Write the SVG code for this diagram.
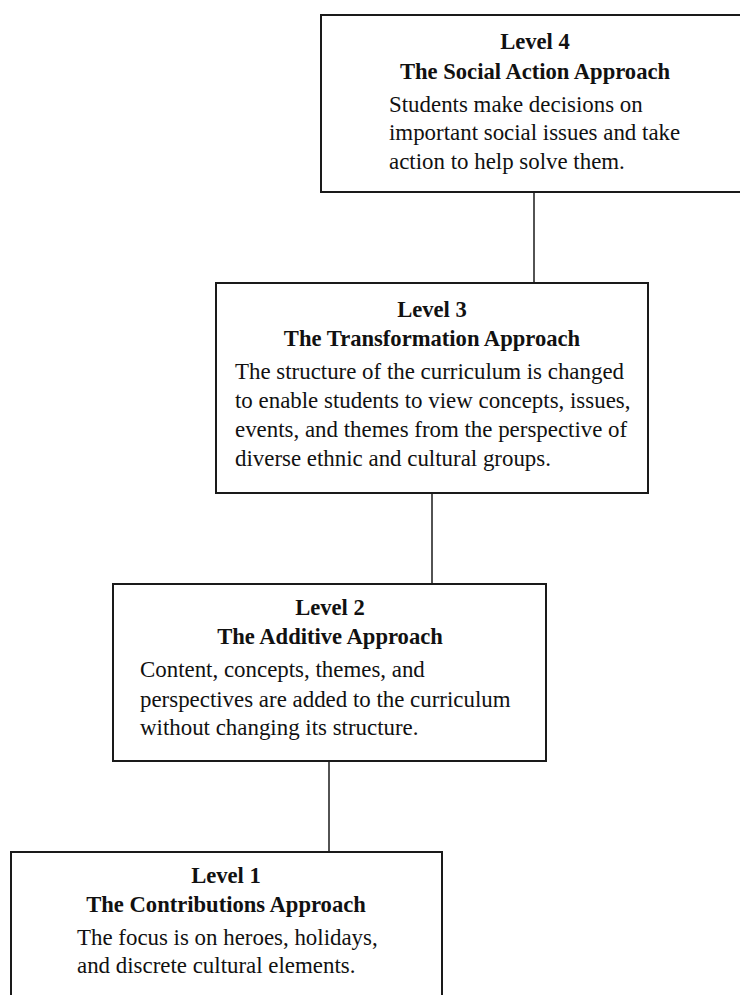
<svg xmlns="http://www.w3.org/2000/svg" width="740" height="995" viewBox="0 0 740 995">
<style>
.box{fill:#fff;stroke:#1a1a1a;stroke-width:2}
.conn{stroke:#1a1a1a;stroke-width:1.5;fill:none}
.t{font-family:"Liberation Serif","Times New Roman",serif;fill:#111}
.h{font-size:22.6px;font-weight:bold;text-anchor:middle}
.d{font-size:22.9px}
</style>
<rect width="740" height="995" fill="#fff"/>
<g id="connectors">
<line class="conn" x1="534" y1="192" x2="534" y2="283"/>
<line class="conn" x1="432" y1="493" x2="432" y2="584"/>
<line class="conn" x1="329" y1="761" x2="329" y2="852"/>
</g>
<g id="level4">
<rect class="box" x="321" y="15" width="430" height="177"/>
<text class="t h" x="535" y="49">Level 4</text>
<text class="t h" x="535" y="79">The Social Action Approach</text>
<text class="t d" x="389" y="112">Students make decisions on</text>
<text class="t d" x="389" y="140">important social issues and take</text>
<text class="t d" x="389" y="169">action to help solve them.</text>
</g>
<g id="level3">
<rect class="box" x="216" y="283" width="432" height="210"/>
<text class="t h" x="432" y="317">Level 3</text>
<text class="t h" x="432" y="346">The Transformation Approach</text>
<text class="t d" x="235" y="379">The structure of the curriculum is changed</text>
<text class="t d" x="235" y="408">to enable students to view concepts, issues,</text>
<text class="t d" x="235" y="437">events, and themes from the perspective of</text>
<text class="t d" x="235" y="466">diverse ethnic and cultural groups.</text>
</g>
<g id="level2">
<rect class="box" x="113" y="584" width="433" height="177"/>
<text class="t h" x="330" y="615">Level 2</text>
<text class="t h" x="330" y="644">The Additive Approach</text>
<text class="t d" x="140" y="677">Content, concepts, themes, and</text>
<text class="t d" x="140" y="707">perspectives are added to the curriculum</text>
<text class="t d" x="140" y="735">without changing its structure.</text>
</g>
<g id="level1">
<rect class="box" x="11" y="852" width="431" height="160"/>
<text class="t h" x="226" y="883">Level 1</text>
<text class="t h" x="226" y="912">The Contributions Approach</text>
<text class="t d" x="77" y="945">The focus is on heroes, holidays,</text>
<text class="t d" x="77" y="973">and discrete cultural elements.</text>
</g>
</svg>
